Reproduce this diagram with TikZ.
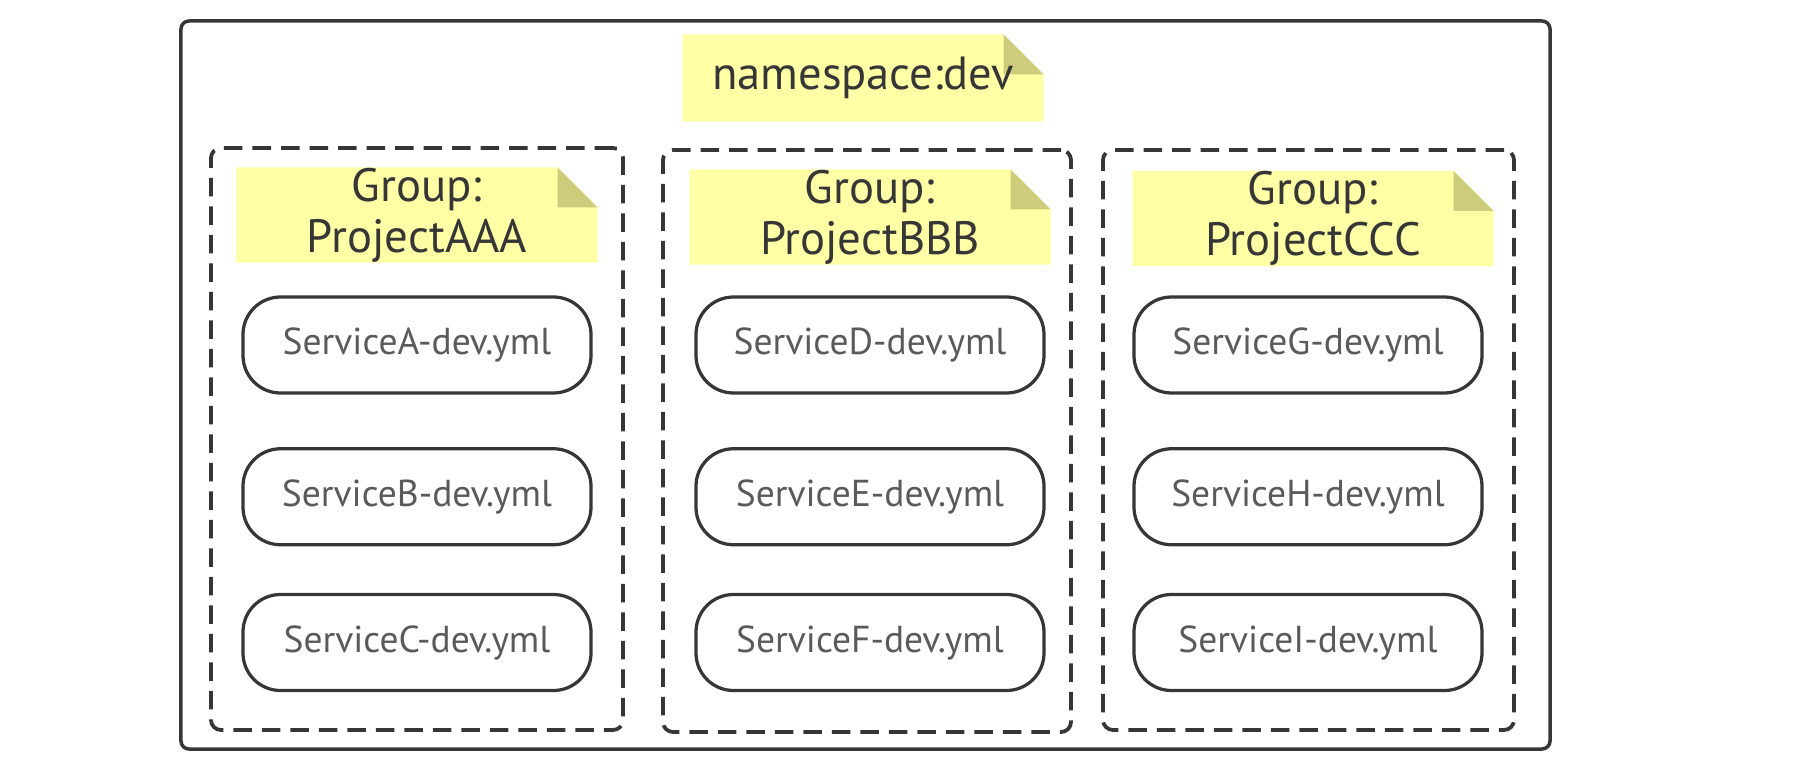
\documentclass[tikz,border=0pt]{standalone}
\usepackage{fontspec}
\setmainfont{PT Sans}
\usetikzlibrary{positioning,backgrounds,calc}

\definecolor{noteyellow}{HTML}{FFFFA6}
\definecolor{notefold}{HTML}{CCCC7A}
\definecolor{linegray}{HTML}{363636}
\definecolor{textgray}{HTML}{5A5A5A}

\tikzset{
  nsbox/.style={draw=linegray, line width=1.4pt, rounded corners=3.2pt, inner sep=0pt},
  groupbox/.style={draw=linegray, line width=1.5pt, dash pattern=on 7.4pt off 4pt, rounded corners=4pt, inner sep=0pt},
  note/.style={minimum width=144pt, minimum height=34.4pt, inner sep=0pt, text=linegray, align=center},
  service/.style={draw=linegray, line width=1.3pt, rounded corners=15pt, minimum width=139.2pt, minimum height=38.4pt, inner sep=0pt, text=textgray, font=\fontsize{15}{16}\selectfont}
}

\begin{document}
\begin{tikzpicture}[x=0.4pt, y=-0.4pt]
  \useasboundingbox (0,0) rectangle (1802,765);

  % namespace
  \node[nsbox, minimum width=547.6pt, minimum height=291.2pt] (ns) at (865.5,385) {};
  \node[note, font=\fontsize{18.6}{20}\selectfont] (nsnote) at (863,78) {namespace:dev};

  % groups
  \node[groupbox, minimum width=164.8pt, minimum height=232.8pt] (grpA) at (417,439) {};
  \node[groupbox, minimum width=163.2pt, minimum height=232.8pt] (grpB) at (867,441) {};
  \node[groupbox, minimum width=164.4pt, minimum height=232.0pt] (grpC) at (1308.5,440) {};

  \node[note, font=\fontsize{18.7}{20.4}\selectfont] (noteA) at (417,215) {Group:\\ProjectAAA};
  \node[note, font=\fontsize{18.7}{20.4}\selectfont] (noteB) at (870,217) {Group:\\ProjectBBB};
  \node[note, font=\fontsize{18.7}{20.4}\selectfont] (noteC) at (1313,218.5) {Group:\\ProjectCCC};

  % services
  \node[service] (svcA) at (417,345) {ServiceA-dev.yml};
  \node[service, below=21pt of svcA] (svcB) {ServiceB-dev.yml};
  \node[service, below=18.6pt of svcB] (svcC) {ServiceC-dev.yml};

  \node[service] (svcD) at (870,345) {ServiceD-dev.yml};
  \node[service, below=21pt of svcD] (svcE) {ServiceE-dev.yml};
  \node[service, below=18.6pt of svcE] (svcF) {ServiceF-dev.yml};

  \node[service] (svcG) at (1308,345) {ServiceG-dev.yml};
  \node[service, below=21pt of svcG] (svcH) {ServiceH-dev.yml};
  \node[service, below=18.6pt of svcH] (svcI) {ServiceI-dev.yml};

  % yellow notes with folded corner
  \begin{scope}[on background layer]
    \foreach \n in {nsnote,noteA,noteB,noteC} {
      \fill[noteyellow] (\n.south west) -- (\n.north west) -- ([xshift=-16pt]\n.north east)
        -- ([yshift=-16pt]\n.north east) -- (\n.south east) -- cycle;
      \fill[notefold] ([xshift=-16pt]\n.north east) -- ([xshift=-16pt,yshift=-16pt]\n.north east)
        -- ([yshift=-16pt]\n.north east) -- cycle;
    }
  \end{scope}
\end{tikzpicture}
\end{document}
